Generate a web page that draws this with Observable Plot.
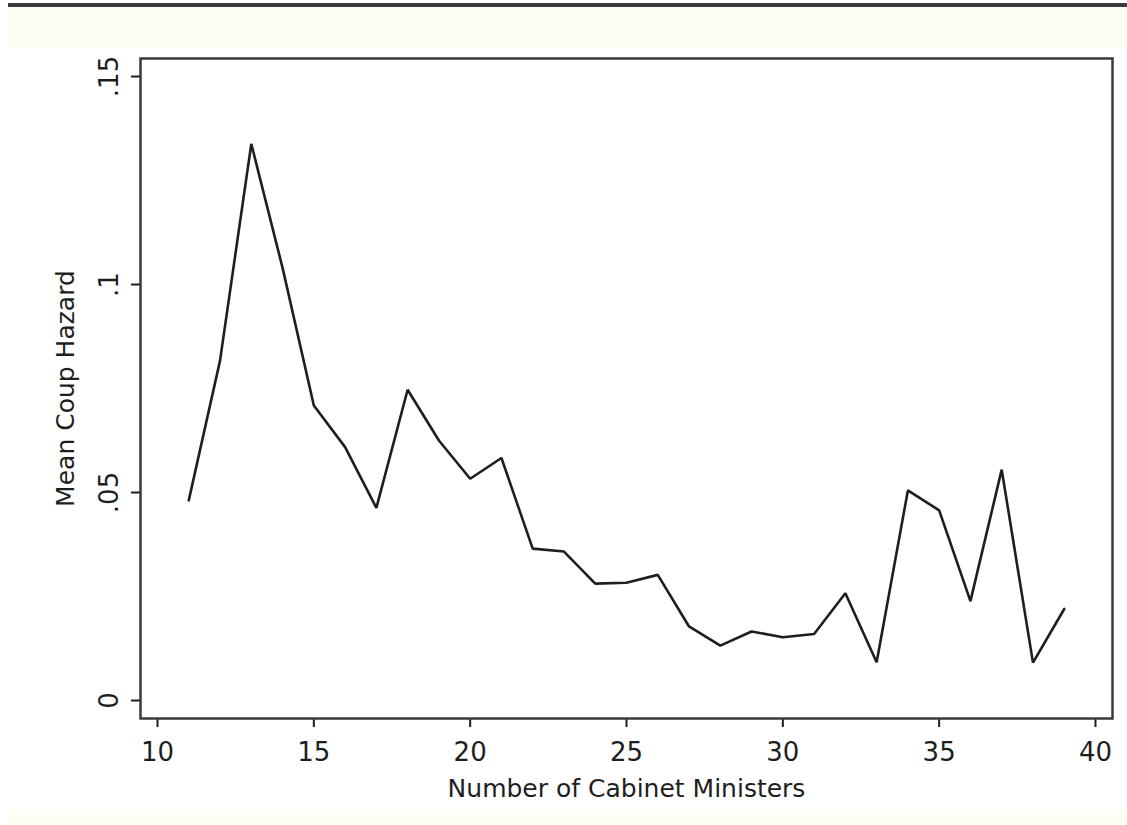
<!DOCTYPE html>
<html>
<head>
<meta charset="utf-8">
<script src="https://cdn.jsdelivr.net/npm/d3@7"></script>
<script src="https://cdn.jsdelivr.net/npm/@observablehq/plot@0.6"></script>
<style>
  html, body { margin: 0; padding: 0; background: #ffffff; }
  #wrap { position: relative; width: 1127px; height: 825px; overflow: hidden; }
  #chart svg { display: block; }
  .band { position: absolute; left: 8px; width: 1119px; background: #fdfdf4; }
  .rule { position: absolute; left: 8px; width: 1119px; top: 3px; height: 4px; background: #3a3a3a; }
</style>
</head>
<body>
<div id="wrap">
  <div id="chart"></div>
  <div class="rule"></div>
  <div class="band" style="top:7px;height:40px;"></div>
  <div class="band" style="top:810px;height:15px;"></div>
</div>
<script>
// Data
const ministers = [11, 12, 13, 14, 15, 16, 17, 18, 19, 20, 21, 22, 23, 24, 25, 26, 27, 28, 29, 30, 31, 32, 33, 34, 35, 36, 37, 38, 39];
const hazard = [0.0481, 0.0817, 0.1338, 0.1040, 0.0709, 0.0609, 0.0463, 0.0747, 0.0625, 0.0533,
                0.0583, 0.0365, 0.0358, 0.0281, 0.0283, 0.0302, 0.0178, 0.0132, 0.0166, 0.0152,
                0.0160, 0.0258, 0.0092, 0.0505, 0.0457, 0.0239, 0.0555, 0.0091, 0.0220];
const xTicks = [10, 15, 20, 25, 30, 35, 40];
const xTickLabels = ["10", "15", "20", "25", "30", "35", "40"];
const yTicks = [0, 0.05, 0.1, 0.15];
const yTickLabels = ["0", ".05", ".1", ".15"];
const xTitle = "Number of Cabinet Ministers";
const yTitle = "Mean Coup Hazard";

const rows = ministers.map((m, i) => ({m, h: hazard[i]}));
const ink = "#1e1e1e";
const font = "DejaVu Sans, sans-serif";

const chart = Plot.plot({
  width: 1127,
  height: 825,
  marginLeft: 140,
  marginRight: 15,
  marginTop: 58,
  marginBottom: 107,
  style: {background: "transparent", fontFamily: font, color: ink},
  x: {domain: [9.4563, 40.5437], axis: null},
  y: {domain: [-0.004327, 0.154327], axis: null},
  marks: [
    Plot.frame({fill: "white"}),
    Plot.axisX({ticks: xTicks, tickSize: 9, tickPadding: 15, stroke: ink, strokeWidth: 2,
      tickFormat: d => xTickLabels[xTicks.indexOf(d)], fontSize: 26, fill: ink, label: null}),
    Plot.axisY({ticks: yTicks, tickSize: 9, tickPadding: 14, tickRotate: -90, stroke: ink, strokeWidth: 2,
      tickFormat: d => yTickLabels[yTicks.indexOf(d)], fontSize: 26, fill: ink, label: null}),
    Plot.text([xTitle], {frameAnchor: "bottom", dy: 78, lineAnchor: "bottom", textAnchor: "middle", fontSize: 25, fill: ink}),
    Plot.text([yTitle], {frameAnchor: "left", dx: -67, rotate: -90, lineAnchor: "bottom", textAnchor: "middle", fontSize: 25, fill: ink}),
    Plot.line(rows, {x: "m", y: "h", stroke: ink, strokeWidth: 2.6, strokeLinejoin: "miter"}),
    Plot.frame({stroke: "#3a3a3a", strokeWidth: 2.5})
  ]
});
document.getElementById("chart").appendChild(chart);
</script>
</body>
</html>
